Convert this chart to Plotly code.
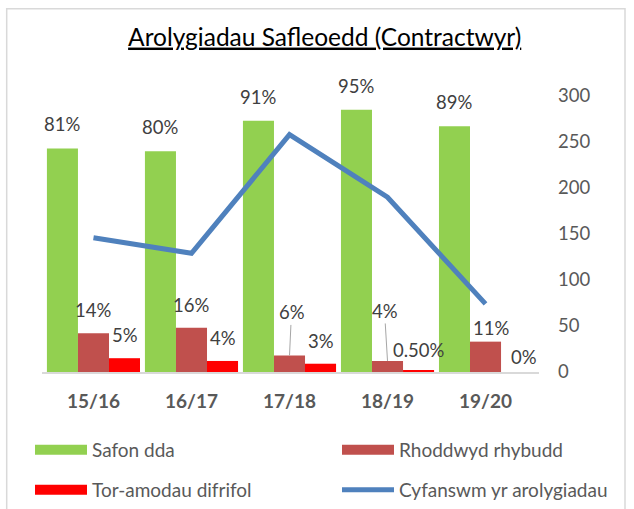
import plotly.graph_objects as go

# data
categories = ["15/16", "16/17", "17/18", "18/19", "19/20"]
safon_dda = [0.81, 0.80, 0.91, 0.95, 0.89]
rhoddwyd_rhybudd = [0.14, 0.16, 0.06, 0.04, 0.11]
tor_amodau = [0.05, 0.04, 0.03, 0.005, 0.0]
cyfanswm = [146, 129, 258, 190, 74]

W, H = 634, 509
L, R, T, B = 42, 95, 96, 137
pw = W - L - R
ph = H - T - B
bar_w = pw / len(categories) * 0.95 / 3

FONT = "Lato, 'Open Sans', sans-serif"
GREY = "#595959"
LABEL = "#404040"

series = [
    ("Safon dda", safon_dda, "#92D050", "legend"),
    ("Rhoddwyd rhybudd", rhoddwyd_rhybudd, "#C0504D", "legend2"),
    ("Tor-amodau difrifol", tor_amodau, "#FF0000", "legend3"),
]


def fmt(v):
    if 0 < v < 0.01:
        return f"{v * 100:.2f}%"
    return f"{v:.0%}"


fig = go.Figure()
for name, vals, col, lg in series:
    fig.add_trace(go.Bar(x=categories, y=vals, name=name, marker_color=col,
                         marker_line_width=0, showlegend=False, legendgroup=name))
# legend swatches (wide rectangles like the original)
for name, vals, col, lg in series:
    fig.add_trace(go.Scatter(x=[None], y=[None], mode="lines", name=name, legend=lg,
                             legendgroup=name, line=dict(color=col, width=12)))
fig.add_trace(go.Scatter(x=categories, y=cyfanswm, yaxis="y2", mode="lines",
                         name="Cyfanswm yr arolygiadau", legend="legend4",
                         line=dict(color="#4F81BD", width=5)))

# per-label nudges (pixels); leader = text moved away with a grey line
label_adjust = {
    (1, 2): dict(ax=2, ay=-43),
    (1, 3): dict(ax=-3, ay=-50),
    (1, 4): dict(dx=5, dy=14),
    (2, 3): dict(dy=21),
    (2, 4): dict(dx=7, dy=15),
}
offsets = [-bar_w, 0, bar_w]
annotations = []
for si, (name, vals, col, lg) in enumerate(series):
    for ci, (cat, v) in enumerate(zip(categories, vals)):
        adj = label_adjust.get((si, ci), {})
        a = dict(x=cat, y=v, xref="x", yref="y", text=fmt(v),
                 font=dict(family=FONT, size=18.5, color=LABEL))
        if "ax" in adj:
            a.update(showarrow=True, arrowhead=0, arrowwidth=1, arrowcolor="#A6A6A6",
                     ax=adj["ax"], ay=adj["ay"], xshift=offsets[si])
        else:
            a.update(showarrow=False, xshift=offsets[si] + adj.get("dx", 0),
                     yshift=adj.get("dy", 24 if si == 0 else 23))
        annotations.append(a)


def legend_box(x_px, y_px):
    return dict(orientation="h", xref="container", yref="container", x=x_px / W, y=1 - y_px / H,
                xanchor="left", yanchor="middle", itemwidth=52, bgcolor="rgba(0,0,0,0)",
                font=dict(family=FONT, size=19, color=GREY), itemclick=False)


fig.update_layout(
    width=W, height=H,
    margin=dict(l=L, r=R, t=T, b=B, autoexpand=False),
    paper_bgcolor="white", plot_bgcolor="white",
    barmode="group", bargap=0.05, bargroupgap=0,
    font=dict(family=FONT, color=GREY),
    title=dict(text="Arolygiadau Safleoedd (Contractwyr)", xref="container", yref="container",
               x=324.7 / W, y=1 - 37 / H, xanchor="center", yanchor="middle",
               font=dict(family=FONT, size=24.5, color="black", lineposition="under")),
    xaxis=dict(showline=True, linecolor="#D9D9D9", linewidth=1.5, ticks="", automargin=False,
               tickfont=dict(family=FONT, size=19, color=GREY, weight="bold"),
               ticklabelstandoff=11, showgrid=False, fixedrange=True),
    yaxis=dict(range=[0, 1], visible=False, showgrid=False, fixedrange=True, automargin=False),
    yaxis2=dict(range=[0, 300], dtick=50, overlaying="y", side="right", showgrid=False,
                showline=False, ticks="", zeroline=False, ticklabelstandoff=18, automargin=False,
                tickfont=dict(family=FONT, size=18.5, color=GREY), fixedrange=True),
    legend=legend_box(30, 450),
    legend2=legend_box(337, 450),
    legend3=legend_box(30, 490),
    legend4=legend_box(337, 490),
    annotations=annotations,
    shapes=[dict(type="rect", xref="paper", yref="paper",
                 x0=(6.7 - L) / pw, x1=(625 - L) / pw,
                 y0=(H - 520 - B) / ph, y1=(H - 8.7 - B) / ph,
                 line=dict(color="#D9D9D9", width=1.5), layer="below")],
    showlegend=True,
)

fig.write_html("out.html", config={"displayModeBar": False},
               post_script="document.body.style.margin='0px';")
